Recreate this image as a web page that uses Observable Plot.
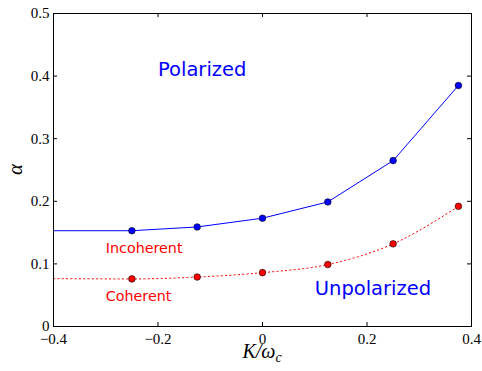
<!DOCTYPE html>
<html>
<head>
<meta charset="utf-8">
<script src="https://cdn.jsdelivr.net/npm/d3@7"></script>
<script src="https://cdn.jsdelivr.net/npm/@observablehq/plot@0.6"></script>
<style>
  html, body { margin: 0; padding: 0; background: #fff; }
</style>
</head>
<body>
<div id="chart"></div>
<script>
// Data
const kValues = [-0.25, -0.125, 0, 0.125, 0.25, 0.375];
const incoherentAlpha = [0.153, 0.159, 0.173, 0.199, 0.265, 0.385];
const coherentAlpha = [0.076, 0.079, 0.086, 0.099, 0.132, 0.192];
const lineStartK = -0.4;
const incoherentStart = 0.153;
const coherentStart = 0.0765;
const xTicks = [-0.4, -0.2, 0, 0.2, 0.4];
const yTicks = [0, 0.1, 0.2, 0.3, 0.4, 0.5];
const annotations = [
  {text: "Polarized", x: -0.2, y: 0.4, color: "#0000ff", size: 19.5},
  {text: "Unpolarized", x: 0.1, y: 0.05, color: "#0000ff", size: 19.5},
  {text: "Incoherent", x: -0.3, y: 0.118, color: "#ff0000", size: 14.3},
  {text: "Coherent", x: -0.3, y: 0.04, color: "#ff0000", size: 14.3}
];

const incoherentPts = kValues.map((k, i) => ({k, a: incoherentAlpha[i]}));
const coherentPts = kValues.map((k, i) => ({k, a: coherentAlpha[i]}));
const incoherentLine = [{k: lineStartK, a: incoherentStart}, ...incoherentPts];
const coherentLine = [{k: lineStartK, a: coherentStart}, ...coherentPts];

const W = 482, H = 371;
const mL = 53, mR = 11, mT = 13, mB = 45;
const pw = W - mL - mR, ph = H - mT - mB;
const tickLen = 4;
const fmt = d => d === 0 ? "0" : d3.format(".1f")(d);
const serif = "'Liberation Serif', 'DejaVu Serif', serif";
const sans = "'DejaVu Sans', sans-serif";

const chart = Plot.plot({
  width: W,
  height: H,
  marginLeft: mL,
  marginRight: mR,
  marginTop: mT,
  marginBottom: mB,
  style: {background: "#fff", color: "#000"},
  x: {domain: [-0.4, 0.4]},
  y: {domain: [0, 0.5]},
  marks: [
    Plot.axisX({ticks: xTicks, tickFormat: fmt, tickSize: 0, tickPadding: 7, fontSize: 15, fontFamily: serif, label: null}),
    Plot.axisY({ticks: yTicks, tickFormat: fmt, tickSize: 0, tickPadding: 4, fontSize: 15, fontFamily: serif, label: null}),
    // inward ticks on all four sides
    Plot.tickX(xTicks, {x: d => d, insetTop: ph - tickLen, stroke: "black"}),
    Plot.tickX(xTicks, {x: d => d, insetBottom: ph - tickLen, stroke: "black"}),
    Plot.tickY(yTicks, {y: d => d, insetRight: pw - tickLen, stroke: "black"}),
    Plot.tickY(yTicks, {y: d => d, insetLeft: pw - tickLen, stroke: "black"}),
    Plot.line(coherentLine, {x: "k", y: "a", stroke: "#ff0000", strokeWidth: 1, strokeDasharray: "1.3,3", curve: "monotone-x"}),
    Plot.line(incoherentLine, {x: "k", y: "a", stroke: "#0000ff", strokeWidth: 1}),
    Plot.dot(incoherentPts, {x: "k", y: "a", r: 3.3, fill: "#0000ff", stroke: "black", strokeWidth: 0.6}),
    Plot.dot(coherentPts, {x: "k", y: "a", r: 3.3, fill: "#ff0000", stroke: "black", strokeWidth: 0.6}),
    ...annotations.map(a => Plot.text([a], {x: "x", y: "y", text: "text", fill: "color", fontSize: a.size, fontFamily: sans, textAnchor: "start", lineAnchor: "bottom"})),
    Plot.frame({stroke: "black", strokeWidth: 1})
  ]
});

// axis titles with math-style subscripts
const svg = d3.select(chart);
const xl = svg.append("text")
  .attr("x", mL + pw / 2)
  .attr("y", H - 13)
  .attr("text-anchor", "middle")
  .attr("font-family", serif)
  .attr("font-style", "italic")
  .attr("font-size", 20)
  .attr("fill", "black");
xl.append("tspan").text("K/ω");
xl.append("tspan").attr("font-size", 14).attr("dy", 4).text("c");

svg.append("text")
  .attr("transform", `translate(22, ${mT + ph / 2}) rotate(-90)`)
  .attr("text-anchor", "middle")
  .attr("font-family", serif)
  .attr("font-style", "italic")
  .attr("font-size", 21)
  .attr("fill", "black")
  .text("α");

document.getElementById("chart").appendChild(chart);
</script>
</body>
</html>
